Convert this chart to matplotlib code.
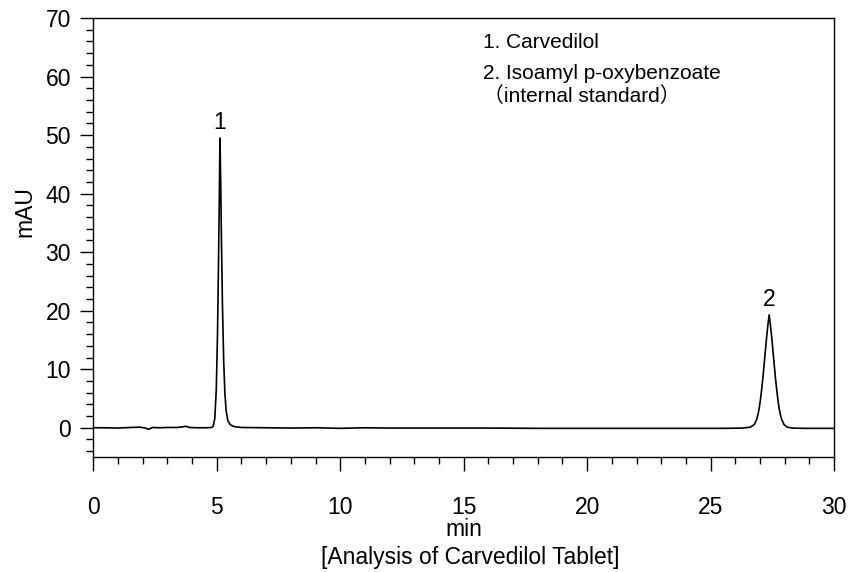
import matplotlib
matplotlib.use("Agg")
import matplotlib.pyplot as plt
from matplotlib.ticker import MultipleLocator

plt.rcParams['font.family'] = ['Liberation Sans', 'Noto Sans CJK JP', 'DejaVu Sans']

# Chromatogram trace (time in min, signal in mAU)
time_min = [0.0, 0.5, 1.0, 1.5, 1.9, 2.1, 2.25, 2.4, 2.7, 3.0, 3.4, 3.6, 3.75, 3.9, 4.2, 4.6,
            4.8, 4.86, 4.92, 4.98, 5.03, 5.07, 5.10, 5.13, 5.16, 5.19, 5.23, 5.28, 5.33,
            5.38, 5.45, 5.55, 5.7, 6.0, 7.0, 8.0, 9.0, 10.0, 11.0, 12.0, 14.0, 16.0, 18.0,
            20.0, 22.0, 24.0, 25.5, 26.3, 26.6, 26.77, 26.87, 26.92, 26.97, 27.02, 27.07,
            27.12, 27.17, 27.22, 27.27, 27.32, 27.37, 27.42, 27.47, 27.52, 27.57, 27.62,
            27.67, 27.72, 27.77, 27.82, 27.87, 27.97, 28.1, 28.3, 28.8, 29.5, 30.0]
signal_mau = [0.0, 0.0, -0.05, 0.05, 0.1, -0.05, -0.25, 0.05, 0.0, 0.05, 0.05, 0.15, 0.25, 0.05,
              0.0, 0.0, 0.05, 0.3, 1.6, 6.5, 16.0, 28.0, 38.0, 49.5, 42.0, 32.0, 21.0, 11.5, 5.8,
              2.9, 1.2, 0.5, 0.2, 0.05, 0.0, -0.05, 0.0, -0.1, 0.0, -0.05, -0.05, -0.05, -0.1,
              -0.1, -0.1, -0.1, -0.1, -0.05, 0.1, 0.55, 1.5, 2.3, 3.4, 4.9, 6.7, 8.7, 11.0,
              13.3, 15.6, 17.6, 19.3, 17.6, 15.6, 13.3, 11.0, 8.7, 6.7, 4.9, 3.4, 2.3, 1.5,
              0.55, 0.1, -0.05, -0.1, -0.1, -0.1]

# Peak labels
peak_names = ["1", "2"]
peak_times = [5.13, 27.37]
peak_heights = [49.5, 19.3]

legend_lines = ["1. Carvedilol", "2. Isoamyl p-oxybenzoate", "（internal standard）"]

fig = plt.figure(figsize=(8.52, 5.72), dpi=100)
ax = fig.add_axes([0.1095, 0.201, 0.8695, 0.7675])

ax.plot(time_min, signal_mau, color='black', lw=1.2, solid_joinstyle='round')

for name, t, h in zip(peak_names, peak_times, peak_heights):
    ax.text(t, h + 1.5, name, ha='center', va='baseline', fontsize=16.5)

ax.set_xlim(0, 30)
ax.set_ylim(-5, 70)
ax.xaxis.set_major_locator(MultipleLocator(5))
ax.xaxis.set_minor_locator(MultipleLocator(1))
ax.yaxis.set_major_locator(MultipleLocator(10))
ax.yaxis.set_minor_locator(MultipleLocator(2))
ax.set_yticks(range(0, 71, 10))

ax.tick_params(axis='both', which='major', direction='out', width=1.0, labelsize=16.5)
ax.tick_params(axis='x', which='major', length=10, pad=18)
ax.tick_params(axis='x', which='minor', length=5, width=1.0)
ax.tick_params(axis='y', which='major', length=9.5, pad=6.5)
ax.tick_params(axis='y', which='minor', length=5, width=1.0)

for s in ax.spines.values():
    s.set_linewidth(1.0)

ax.set_ylabel("mAU", fontsize=16.5)
ax.yaxis.set_label_coords(-0.092, 0.558)
ax.yaxis.label.set_va('center')
ax.set_xlabel("min", fontsize=16.5)
ax.xaxis.set_label_coords(0.5, -0.166)
ax.xaxis.label.set_va('center')

ys = [64.93, 59.59, 55.67]
for line, y in zip(legend_lines, ys):
    ax.text(15.78, y, line, ha='left', va='baseline', fontsize=15)

fig.text(0.5516, 0.026, "[Analysis of Carvedilol Tablet]", ha='center', va='center', fontsize=16.5)

fig.savefig("out.png", dpi=100)
